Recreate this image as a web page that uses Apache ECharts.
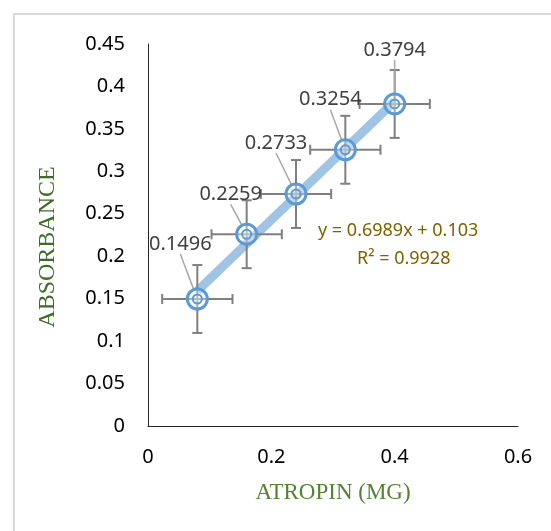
<!DOCTYPE html>
<html>
<head>
<meta charset="utf-8">
<script src="https://cdn.jsdelivr.net/npm/echarts@6/dist/echarts.min.js"></script>
<style>
  html, body { margin: 0; padding: 0; background: #fff; overflow: hidden; }
  #frame { position: absolute; left: 13px; top: 13px; width: 600px; height: 600px;
           border-top: 2px solid #d9d9d9; border-left: 2px solid #d9d9d9; }
  #chart { position: absolute; left: 0; top: 0; width: 551px; height: 531px; }
</style>
</head>
<body>
<div id="frame"></div>
<div id="chart"></div>
<script>
// 数据
const doses = [0.08, 0.16, 0.24, 0.32, 0.40];
const absorbance = [0.1496, 0.2259, 0.2733, 0.3254, 0.3794];
const doseErr = [0.057, 0.057, 0.057, 0.057, 0.057];
const absErr = [0.04, 0.04, 0.04, 0.04, 0.04];
const xTicks = { min: 0, max: 0.6, interval: 0.2 };
const yTicks = { min: 0, max: 0.45, interval: 0.05 };
const trendLines = ["y = 0.6989x + 0.103", "R² = 0.9928"];

// 标签偏移 (像素)
const labelShift = [[-17, -55], [-16, -40], [-20, -51], [-15, -50], [0, -54]];

// 线性回归
function linFit(xs, ys) {
  const n = xs.length;
  const mx = xs.reduce((a, b) => a + b, 0) / n;
  const my = ys.reduce((a, b) => a + b, 0) / n;
  let sxy = 0, sxx = 0;
  for (let i = 0; i < n; i++) {
    sxy += (xs[i] - mx) * (ys[i] - my);
    sxx += (xs[i] - mx) * (xs[i] - mx);
  }
  const slope = sxy / sxx;
  return { slope: slope, intercept: my - slope * mx };
}
const fit = linFit(doses, absorbance);
const x0 = Math.min.apply(null, doses), x1 = Math.max.apply(null, doses);
const trendData = [[x0, fit.intercept + fit.slope * x0], [x1, fit.intercept + fit.slope * x1]];

const points = doses.map((x, i) => [x, absorbance[i]]);
const errData = doses.map((x, i) => [x, absorbance[i], doseErr[i], absErr[i]]);

const sans = "'Noto Sans', 'Open Sans', sans-serif";
const serif = "'Liberation Serif', 'DejaVu Serif', serif";

const chart = echarts.init(document.getElementById("chart"));
chart.setOption({
  animation: false,
  backgroundColor: "transparent",
  grid: { left: 148, right: 33, top: 44, bottom: 105 },
  xAxis: {
    type: "value",
    min: xTicks.min, max: xTicks.max, interval: xTicks.interval,
    name: "ATROPIN (MG)",
    nameLocation: "middle",
    nameGap: 55,
    nameTextStyle: { color: "#548235", fontFamily: serif, fontSize: 23 },
    axisLine: { show: true, onZero: false, lineStyle: { color: "#262626", width: 1 } },
    axisTick: { show: false },
    splitLine: { show: false },
    axisLabel: { color: "#000", fontFamily: sans, fontSize: 20, margin: 21 }
  },
  yAxis: {
    type: "value",
    min: yTicks.min, max: yTicks.max, interval: yTicks.interval,
    name: "ABSORBANCE",
    nameLocation: "middle",
    nameGap: 88,
    nameTextStyle: { color: "#3e6b27", fontFamily: serif, fontSize: 24, padding: [0, 24, 0, 0] },
    axisLine: { show: true, onZero: false, lineStyle: { color: "#262626", width: 1 } },
    axisTick: { show: false },
    splitLine: { show: false },
    axisLabel: { color: "#000", fontFamily: sans, fontSize: 20, margin: 23 }
  },
  series: [
    {
      // 趋势线
      type: "line",
      data: trendData,
      symbol: "none",
      silent: true,
      z: 1,
      lineStyle: { color: "#a2c4e4", width: 9 }
    },
    {
      // 误差线
      type: "custom",
      data: errData,
      z: 2,
      silent: true,
      renderItem: function (params, api) {
        const x = api.value(0), y = api.value(1), ex = api.value(2), ey = api.value(3);
        const l = api.coord([x - ex, y]), r = api.coord([x + ex, y]);
        const t = api.coord([x, y + ey]), b = api.coord([x, y - ey]);
        const cap = 5;
        const st = { stroke: "#7f7f7f", lineWidth: 2 };
        const seg = (a1, b1, a2, b2) => ({ type: "line", shape: { x1: a1, y1: b1, x2: a2, y2: b2 }, style: st });
        return {
          type: "group",
          children: [
            seg(l[0], l[1], r[0], r[1]),
            seg(l[0], l[1] - cap, l[0], l[1] + cap),
            seg(r[0], r[1] - cap, r[0], r[1] + cap),
            seg(t[0], t[1], b[0], b[1]),
            seg(t[0] - cap, t[1], t[0] + cap, t[1]),
            seg(b[0] - cap, b[1], b[0] + cap, b[1])
          ]
        };
      }
    },
    {
      // 外圈 + 数据标签
      type: "scatter",
      data: points,
      z: 3,
      symbol: "circle",
      symbolSize: 20,
      itemStyle: { color: "rgba(255,255,255,0.35)", borderColor: "#5b9bd5", borderWidth: 3, opacity: 1 },
      label: {
        show: true,
        position: "inside",
        formatter: p => String(p.value[1]),
        color: "#404040",
        fontFamily: sans,
        fontSize: 20
      },
      labelLine: { show: true, lineStyle: { color: "#a6a6a6", width: 1.5 } },
      labelLayout: function (p) {
        const s = labelShift[p.dataIndex];
        return {
          x: p.rect.x + p.rect.width / 2 + s[0],
          y: p.rect.y + p.rect.height / 2 + s[1],
          align: "center",
          verticalAlign: "middle",
          hideOverlap: false
        };
      }
    },
    {
      // 内圈
      type: "scatter",
      data: points,
      z: 4,
      silent: true,
      symbol: "circle",
      symbolSize: 9,
      itemStyle: { color: "rgba(255,255,255,0.2)", borderColor: "#5b9bd5", borderWidth: 2, opacity: 1 }
    }
  ],
  graphic: [
    {
      type: "text", left: 318, top: 222,
      style: { text: trendLines[0], fill: "#7f6000", font: "18px " + sans }
    },
    {
      type: "text", left: 357, top: 250,
      style: { text: trendLines[1], fill: "#7f6000", font: "18px " + sans }
    }
  ]
});
</script>
</body>
</html>
